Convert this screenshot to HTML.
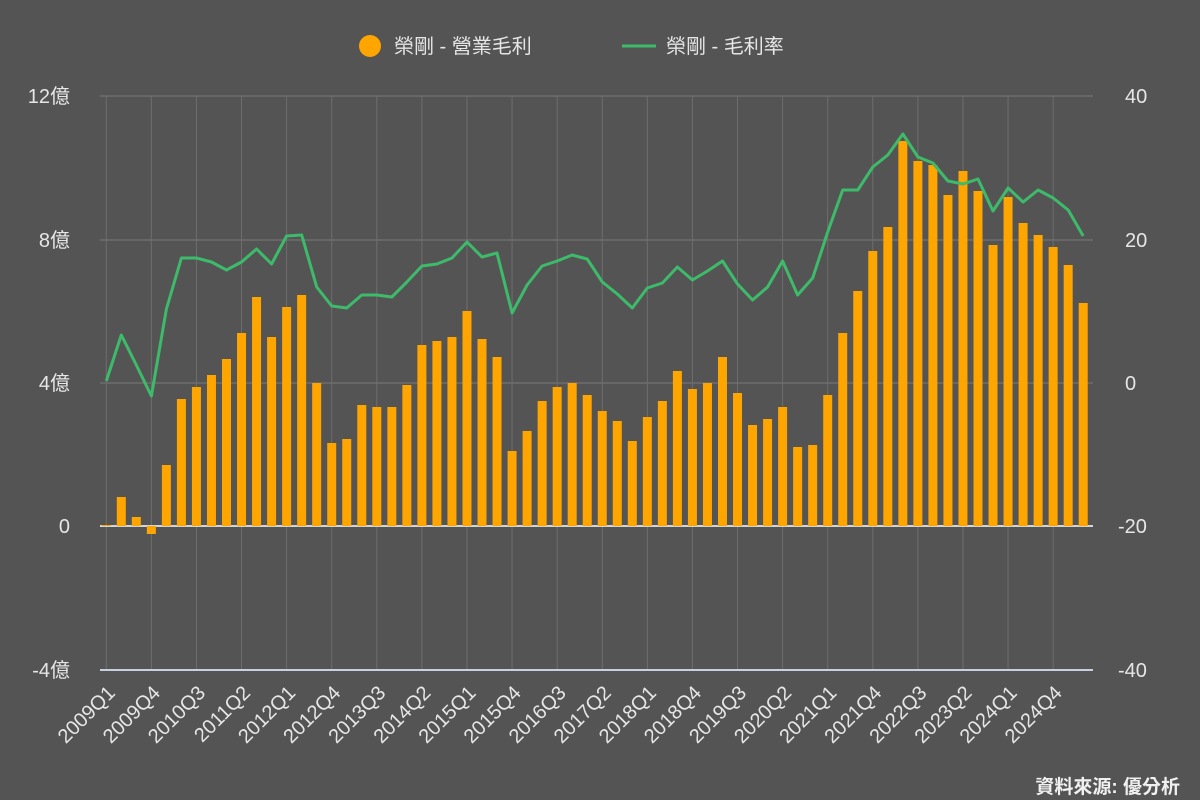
<!DOCTYPE html>
<html><head><meta charset="utf-8"><style>
html,body{margin:0;padding:0;background:#545454;}
svg{display:block;font-family:"Liberation Sans","Noto Sans CJK TC",sans-serif;}
</style></head><body>
<svg id="c" width="1200" height="800" xmlns="http://www.w3.org/2000/svg">
<rect width="1200" height="800" fill="#545454"/>
<g id="grid"></g>
<g id="bars"></g>
<polyline id="ln" fill="none" stroke="#3dba6a" stroke-width="3" stroke-linejoin="round"/>
<g fill="#e6e6e6" font-size="20">
<text x="70" y="103" text-anchor="end">12億</text>
<text x="70" y="247" text-anchor="end">8億</text>
<text x="70" y="390" text-anchor="end">4億</text>
<text x="70" y="533" text-anchor="end">0</text>
<text x="70" y="677" text-anchor="end">-4億</text>
<text x="1125" y="103">40</text>
<text x="1125" y="247">20</text>
<text x="1125" y="390">0</text>
<text x="1118" y="533">-20</text>
<text x="1118" y="677">-40</text>
</g>
<g id="xl" fill="#e6e6e6" font-size="20"></g>
<circle cx="370" cy="46" r="11" fill="#ffa500"/>
<text x="394" y="53" fill="#e6e6e6" font-size="20">榮剛 - 營業毛利</text>
<line x1="622" y1="46" x2="656" y2="46" stroke="#3dba6a" stroke-width="3"/>
<text x="666" y="53" fill="#e6e6e6" font-size="20">榮剛 - 毛利率</text>
<text x="1180" y="793" fill="#f0f0f0" font-size="19" font-weight="bold" text-anchor="end">資料來源: 優分析</text>
</svg>
<script>
var B=[525,497,517,534,465,399,387,375,359,333,297,337,307,295,383,443,439,405,407,407,385,345,341,337,311,339,357,451,431,401,387,383,395,411,421,441,417,401,371,389,383,357,393,425,419,407,447,445,395,333,291,251,227,141,161,165,195,171,191,245,197,223,235,247,265,303];
var L=[381,335,365,396,309,258,258,262,270,262,249,264,236,235,287,306,308,295,295,297,282,266,264,258,242,257,253,313,285,266,261,255,259,282,294,308,288,283,267,280,271,261,284,300,287,261,295,278,232,190,190,167,155,134,157,163,181,184,179,211,188,202,190,198,210,236];
var ns="http://www.w3.org/2000/svg";
function el(t,a,p){var e=document.createElementNS(ns,t);for(var k in a)e.setAttribute(k,a[k]);document.getElementById(p).appendChild(e);return e;}
var x0=101,w=15.03;
function cx(i){return x0+w*(i+0.35);}
[96,240,383].forEach(function(y){el('line',{x1:100,x2:1093,y1:y,y2:y,stroke:'#7a7a7a','stroke-width':1},'grid');});
for(var i=0;i<66;i+=3){var x=cx(i);el('line',{x1:x,x2:x,y1:96,y2:670,stroke:'#6e6e6e','stroke-width':1},'grid');
var q=2009*4+i,yr=Math.floor(q/4),qq=q%4+1;
var t=el('text',{x:0,y:0,'text-anchor':'end',transform:'translate('+(x+10)+',694) rotate(-45)'},'xl');t.textContent=yr+'Q'+qq;}
el('line',{x1:100,x2:1093,y1:526,y2:526,stroke:'#ffffff','stroke-width':1.5},'grid');
el('line',{x1:100,x2:1093,y1:670,y2:670,stroke:'#c8d0e0','stroke-width':2},'grid');
var pts=[];
for(var i=0;i<66;i++){var x=cx(i),y=B[i];el('rect',{x:x-4.5,width:9,y:Math.min(y,526),height:Math.max(Math.abs(526-y),1),fill:'#ffa500'},'bars');pts.push(x.toFixed(1)+','+L[i]);}
document.getElementById('ln').setAttribute('points',pts.join(' '));
</script>
</body></html>
